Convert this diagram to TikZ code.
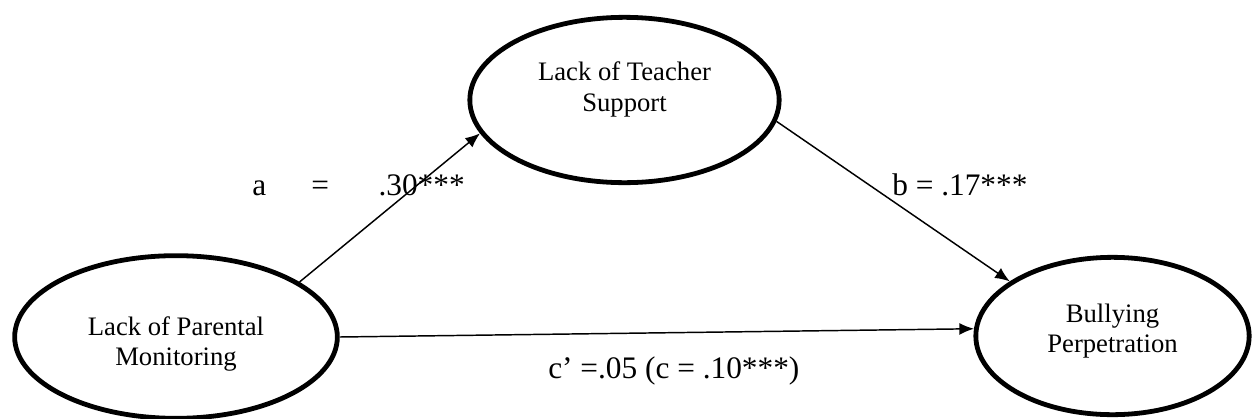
\documentclass[tikz,border=0pt]{standalone}
\usepackage{fontspec}
\setmainfont{Liberation Serif}
\usetikzlibrary{shapes.geometric,arrows.meta}
\begin{document}
\begin{tikzpicture}[x=0.75pt,y=-0.75pt,
  var/.style={ellipse,draw,line width=3.6pt,align=center,font=\fontsize{20}{23}\selectfont},
  arr/.style={line width=1.1pt,-{Latex[length=11pt,width=9pt]}},
  coef/.style={font=\fontsize{23.5}{27}\selectfont,inner sep=0pt}]
  \useasboundingbox (0,0) rectangle (1253,418);
  \node[var,minimum width=242pt,minimum height=122pt,text height=47.5pt] (pm) at (176,337) {Lack of Parental\\Monitoring};
  \node[var,minimum width=232pt,minimum height=124pt,text depth=20pt] (tch) at (624.5,100) {Lack of Teacher\\Support};
  \node[var,minimum width=205pt,minimum height=118pt,text depth=11.5pt] (bul) at (1112.5,336) {Bullying\\Perpetration};
  \draw[arr] (pm.24) -- (tch.193);
  \draw[arr] (tch.-8) -- (bul.152);
  \draw[arr] (pm.east) -- (bul.177);
  \node[coef,anchor=base west] (la) at (252,195) {a\hspace{34pt}=\hspace{37pt}.30***};
  \node[coef,anchor=base west] (lb) at (892,195) {b = .17***};
  \node[coef,anchor=base west] (lc) at (548,378) {c’ =.05 (c = .10***)};
\end{tikzpicture}
\end{document}
